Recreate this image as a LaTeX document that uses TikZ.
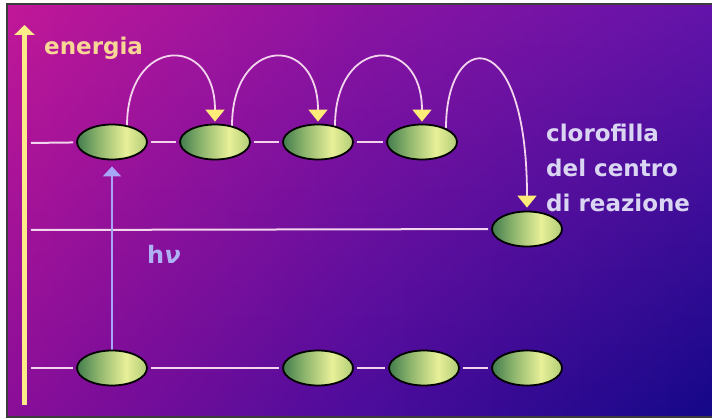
\documentclass[tikz,border=0pt]{standalone}
\usepackage{fontspec}
\setmainfont{DejaVu Sans}
\usetikzlibrary{shapes.geometric,arrows.meta,calc,fadings}
\definecolor{tA}{RGB}{194,24,152}
\definecolor{tB}{RGB}{140,20,162}
\definecolor{tC}{RGB}{100,20,170}
\definecolor{bA}{RGB}{138,14,152}
\definecolor{bB}{RGB}{76,12,156}
\definecolor{bC}{RGB}{20,8,136}
\definecolor{egA}{RGB}{66,124,78}
\definecolor{egB}{RGB}{140,180,108}
\definecolor{egC}{RGB}{232,240,152}
\definecolor{egD}{RGB}{176,204,118}
\definecolor{linepink}{RGB}{242,212,236}
\definecolor{eyellow}{RGB}{255,234,138}
\definecolor{tipyellow}{RGB}{255,236,120}
\definecolor{entext}{RGB}{248,214,150}
\definecolor{labtext}{RGB}{217,213,242}
\definecolor{hvtext}{RGB}{176,176,244}
\definecolor{bluearrow}{RGB}{168,164,248}
\definecolor{framegray}{RGB}{60,60,60}
\pgfdeclarehorizontalshading{ellshade}{100bp}{color(0bp)=(egA); color(25bp)=(egA); color(40bp)=(egB); color(60bp)=(egC); color(75bp)=(egD); color(100bp)=(egD)}
\pgfdeclarehorizontalshading{topshade}{100bp}{color(0bp)=(tA); color(25bp)=(tA); color(50bp)=(tB); color(75bp)=(tC); color(100bp)=(tC)}
\pgfdeclarehorizontalshading{botshade}{100bp}{color(0bp)=(bA); color(25bp)=(bA); color(50bp)=(bB); color(75bp)=(bC); color(100bp)=(bC)}
\pgfdeclarelayer{back}
\pgfdeclarelayer{conn}
\pgfsetlayers{back,conn,main}
\begin{document}
\begin{tikzpicture}[x=1pt,y=-1pt,
  pig/.style={ellipse, draw=black, line width=1.8pt, minimum width=70pt, minimum height=35pt, inner sep=0pt, shade, shading=ellshade},
  lvl/.style={draw=linepink, line width=2pt, shorten <=3pt, shorten >=3pt},
  hop/.style={draw=linepink, line width=1.8pt, shorten >=2pt, -{Triangle[width=19pt,length=12pt,color=tipyellow,fill=tipyellow]}},
  lab/.style={anchor=base west, font=\bfseries\fontsize{23}{23}\selectfont, text=labtext, inner sep=0pt}]
\useasboundingbox (0,0) rectangle (712,419);
\begin{pgfonlayer}{back}
\fill[white] (0,0) rectangle (712,419);
\shade[shading=topshade] (7,4) rectangle (712,417);
\shade[shading=botshade, path fading=north] (7,4) rectangle (712,417);
\draw[framegray, line width=1.5pt] (712,4) -- (7,4) -- (7,417) -- (712,417);
\end{pgfonlayer}
% pigments
\node[pig] (u1) at (112,142) {};
\node[pig] (u2) at (215,142) {};
\node[pig] (u3) at (318,142) {};
\node[pig] (u4) at (422,142) {};
\node[pig] (r)  at (527,229) {};
\node[pig] (b1) at (112,368) {};
\node[pig] (b2) at (318,368) {};
\node[pig] (b3) at (424,368) {};
\node[pig] (b4) at (527,368) {};
% energy axis
\coordinate (ebot) at (24.5,405);
\coordinate (etop) at (24.5,25);
\coordinate (l1) at (28,143);
\coordinate (l2) at (28,230);
\coordinate (l3) at (28,368);
\coordinate (s1) at ($(u1.center)+(15,-16)$);
\coordinate (s2) at ($(u2.center)+(17,-16)$);
\coordinate (s3) at ($(u3.center)+(17,-16)$);
\coordinate (s4) at ($(u4.center)+(24,-14)$);
\begin{pgfonlayer}{conn}
\draw[eyellow, line width=5pt, -{Triangle[width=20pt,length=10pt]}] (ebot) -- (etop);
\draw[lvl] (l1) -- (u1);
\draw[lvl] (u1) -- (u2);
\draw[lvl] (u2) -- (u3);
\draw[lvl] (u3) -- (u4);
\draw[lvl] (l2) -- (r);
\draw[lvl] (l3) -- (b1);
\draw[lvl] (b1) -- (b2);
\draw[lvl] (b2) -- (b3);
\draw[lvl] (b3) -- (b4);
\draw[hop] (s1) .. controls +(0,-90) and +(0,-90) .. (u2.north);
\draw[hop] (s2) .. controls +(0,-90) and +(0,-90) .. (u3.north);
\draw[hop] (s3) .. controls +(0,-90) and +(0,-90) .. (u4.north);
\draw[hop, shorten >=3pt] (s4) .. controls +(0,-98) and +(0,-190) .. (r.north);
\draw[bluearrow, line width=2.2pt, shorten >=6pt, -{Triangle[width=18pt,length=10pt]}] (b1.north) -- (u1.south);
\end{pgfonlayer}
% labels
\node[lab, text=entext] (en) at (44,55) {energia};
\node[lab] (c1) at (546,142) {clorofilla};
\node[lab] (c2) at (546,177) {del centro};
\node[lab] (c3) at (546,212) {di reazione};
\node[lab, text=hvtext, font=\bfseries\fontsize{24}{24}\selectfont] (hv) at (147,264) {h\textit{ν}};
\end{tikzpicture}
\end{document}
